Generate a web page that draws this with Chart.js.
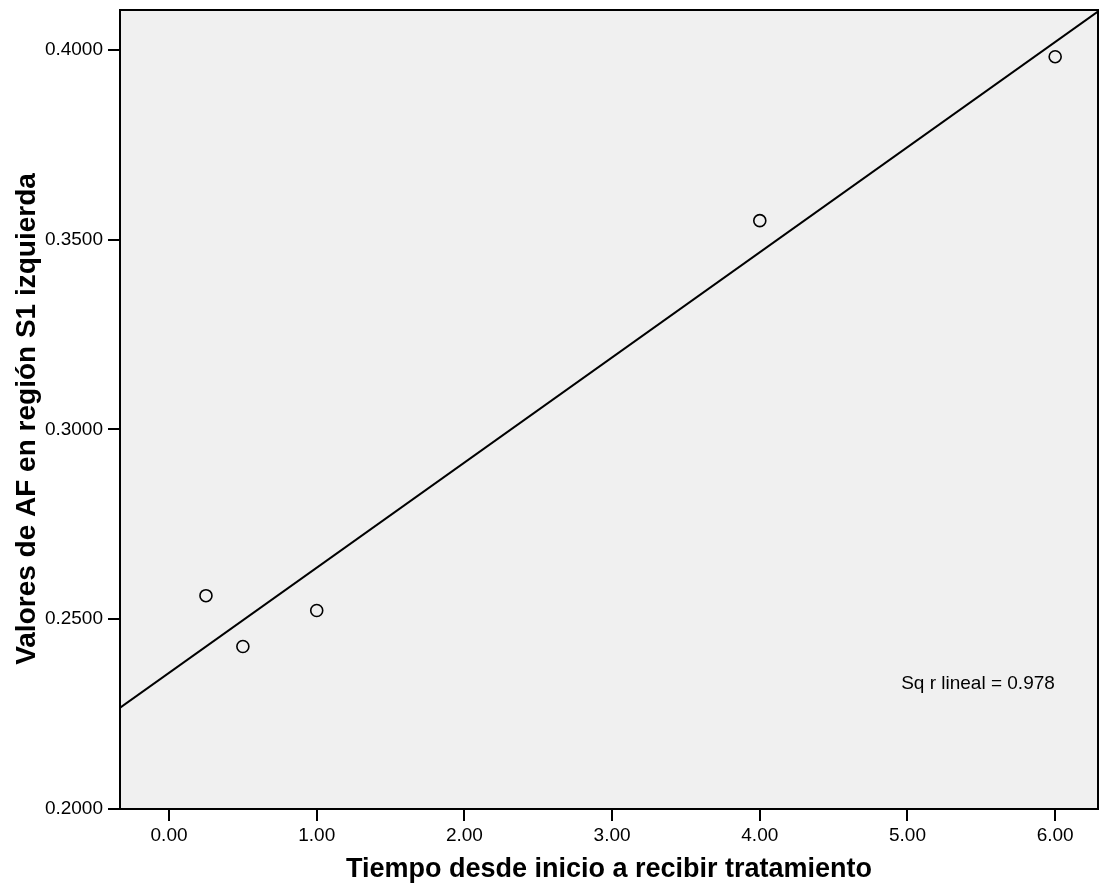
<!doctype html>
<html>
<head>
	<title>AF vs tiempo</title>
	<script src="https://cdn.jsdelivr.net/npm/chart.js@4.4.1"></script>
	<style>
	* { margin: 0; padding: 0; }
	body { background: #fff; }
	.chartBox { width: 1100px; height: 887px; }
	</style>
</head>
<body>
	<div class="chartBox">
		<canvas id="canvas_scatter"></canvas>
	</div>
</body>
<script type="text/javascript">
	// observaciones
	var tiempo = [0.25, 0.5, 1.0, 4.0, 6.0];
	var valoresAF = [0.2562, 0.2428, 0.2523, 0.3550, 0.3982];

	// recta de ajuste lineal (extremos)
	var ajusteX = [-0.345, 6.30];
	var ajusteY = [0.2263, 0.4104];

	var xTicks = [0, 1, 2, 3, 4, 5, 6];
	var yTicks = [0.20, 0.25, 0.30, 0.35, 0.40];
	var rCuadrado = '0.978';
	var tituloY = 'Valores de AF en región S1 izquierda';

	var puntos = tiempo.map(function(t, i) { return { x: t, y: valoresAF[i] }; });
	var recta = ajusteX.map(function(t, i) { return { x: t, y: ajusteY[i] }; });

	var fontFam = '"Liberation Sans", Arial, sans-serif';

	var plotBackground = {
		id: 'plotBackground',
		beforeDraw: function(chart) {
			var a = chart.chartArea, ctx = chart.ctx;
			ctx.save();
			ctx.fillStyle = '#f0f0f0';
			ctx.fillRect(a.left, a.top, a.right - a.left, a.bottom - a.top);
			ctx.restore();
		},
		afterDraw: function(chart) {
			var a = chart.chartArea, ctx = chart.ctx;
			ctx.save();
			ctx.strokeStyle = '#000';
			ctx.lineWidth = 2;
			ctx.strokeRect(a.left, a.top, a.right - a.left, a.bottom - a.top);
			// etiqueta R cuadrado
			ctx.fillStyle = '#000';
			ctx.font = '19px ' + fontFam;
			ctx.textAlign = 'center';
			ctx.textBaseline = 'alphabetic';
			ctx.fillText('Sq r lineal = ' + rCuadrado, a.right - 120, a.bottom - 120);
			// titulo del eje Y
			ctx.font = 'bold 28px ' + fontFam;
			ctx.translate(35, 419);
			ctx.rotate(-Math.PI / 2);
			ctx.fillText(tituloY, 0, 0);
			ctx.restore();
		}
	};

	var config = {
		type: 'scatter',
		data: {
			datasets: [
				{
					label: 'Recta',
					data: recta,
					showLine: true,
					borderColor: '#000',
					borderWidth: 2,
					pointRadius: 0,
					fill: false,
					order: 2
				},
				{
					label: 'AF',
					data: puntos,
					pointStyle: 'circle',
					pointRadius: 6,
					pointBorderWidth: 1.6,
					pointBorderColor: '#000',
					pointBackgroundColor: 'rgba(0,0,0,0)',
					order: 1
				}
			]
		},
		options: {
			responsive: true,
			maintainAspectRatio: false,
			animation: false,
			layout: {
				autoPadding: false,
				padding: { top: 10, right: 2, left: 0, bottom: 0 }
			},
			plugins: {
				legend: { display: false },
				tooltip: { enabled: false }
			},
			scales: {
				x: {
					type: 'linear',
					min: -0.332,
					max: 6.29,
					afterBuildTicks: function(scale) {
						scale.ticks = xTicks.map(function(v) { return { value: v }; });
					},
					afterFit: function(scale) {
						scale.height = 78;
						scale.paddingLeft = 0;
						scale.paddingRight = 0;
					},
					grid: {
						display: true,
						drawOnChartArea: false,
						drawTicks: true,
						tickLength: 12,
						color: '#000',
						lineWidth: 2
					},
					border: { display: true, color: '#000', width: 2 },
					ticks: {
						color: '#000',
						padding: 3,
						maxRotation: 0,
						font: { family: fontFam, size: 19 },
						callback: function(v) { return v.toFixed(2); }
					},
					title: {
						display: true,
						text: 'Tiempo desde inicio a recibir tratamiento',
						color: '#000',
						font: { family: fontFam, size: 27, weight: 'bold' },
						padding: { top: 0, bottom: 1 }
					}
				},
				y: {
					type: 'linear',
					min: 0.2,
					max: 0.4105,
					afterBuildTicks: function(scale) {
						scale.ticks = yTicks.map(function(v) { return { value: v }; });
					},
					afterFit: function(scale) {
						scale.width = 120;
						scale.paddingTop = 0;
						scale.paddingBottom = 0;
					},
					grid: {
						display: true,
						drawOnChartArea: false,
						drawTicks: true,
						tickLength: 12,
						color: '#000',
						lineWidth: 2
					},
					border: { display: true, color: '#000', width: 2 },
					ticks: {
						color: '#000',
						padding: 5,
						font: { family: fontFam, size: 19 },
						callback: function(v) { return v.toFixed(4); }
					},
					title: { display: false }
				}
			}
		},
		plugins: [plotBackground]
	};

	var scatter_Chart = new Chart(document.getElementById('canvas_scatter'), config);
</script>
</html>
